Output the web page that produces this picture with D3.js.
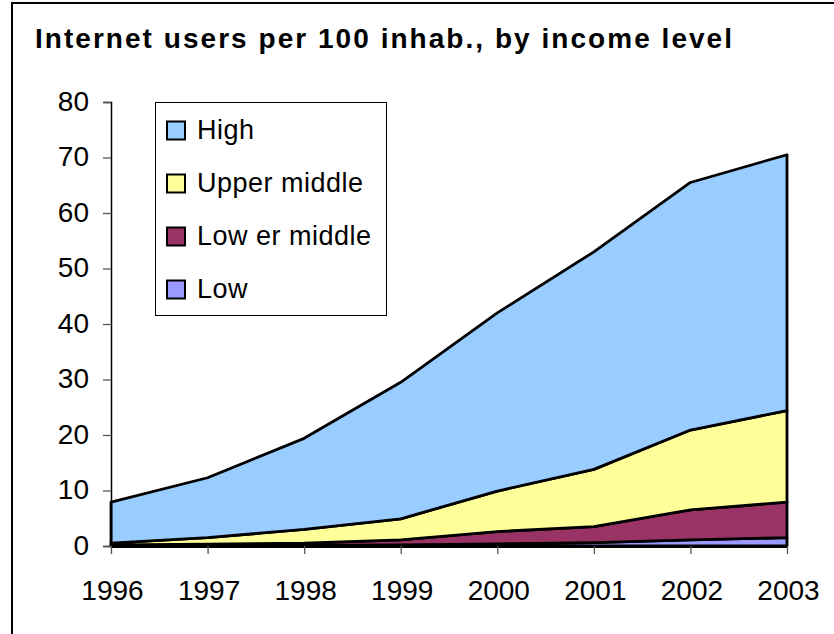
<!DOCTYPE html>
<html>
<head>
<meta charset="utf-8">
<script src="https://cdn.jsdelivr.net/npm/d3@7"></script>
<style>
  html, body { margin: 0; padding: 0; background: #fff; }
  svg { display: block; font-family: "Liberation Sans", Arial, sans-serif; }
</style>
</head>
<body>
<svg id="chart" width="834" height="634"></svg>
<script>
// ---- data ----
const years = ["1996", "1997", "1998", "1999", "2000", "2001", "2002", "2003"];
const low         = [0.05, 0.07, 0.1, 0.2, 0.4, 0.6, 1.1, 1.5];
const lowerMiddle = [0.15, 0.28, 0.4, 0.9, 2.2, 2.9, 5.4, 6.4];
const upperMiddle = [0.3, 1.15, 2.5, 3.8, 7.3, 10.3, 14.4, 16.5];
const high        = [7.4, 10.8, 16.4, 24.6, 32.1, 39.2, 44.6, 46.1];
const seriesNames = ["Low", "Low er middle", "Upper middle", "High"];
const seriesColors = ["#9999FF", "#993366", "#FFFF99", "#99CCFF"];
const yTicks = [0, 10, 20, 30, 40, 50, 60, 70, 80];
const title = "Internet users per 100 inhab., by income level";

// ---- layout ----
const svg = d3.select("#chart");
const x0 = 111, x1 = 787, yTop = 102, yBot = 546;

const rows = years.map((yr, i) => ({
  year: yr, "Low": low[i], "Low er middle": lowerMiddle[i],
  "Upper middle": upperMiddle[i], "High": high[i]
}));
const stacked = d3.stack().keys(seriesNames)(rows);

const x = d3.scalePoint().domain(years).range([x0, x1]);
const y = d3.scaleLinear().domain([0, 80]).range([yBot, yTop]);

// outer frame
svg.append("rect").attr("x", 12).attr("y", 3).attr("width", 840).attr("height", 650)
  .attr("fill", "none").attr("stroke", "#000").attr("stroke-width", 2);

// title
svg.append("text").attr("x", 35).attr("y", 48)
  .attr("font-size", 28).attr("font-weight", "bold")
  .attr("textLength", 697).attr("lengthAdjust", "spacing")
  .text(title);

// areas
const area = d3.area()
  .x((d, i) => x(years[i]))
  .y0(d => y(d[0]))
  .y1(d => y(d[1]));
svg.append("g").selectAll("path").data(stacked).join("path")
  .attr("d", area)
  .attr("fill", (d, i) => seriesColors[i])
  .attr("stroke", "#000").attr("stroke-width", 2.8)
  .attr("stroke-linejoin", "round");

// y axis
const yAxis = d3.axisLeft(y).tickValues(yTicks).tickSize(8).tickPadding(14);
const gy = svg.append("g").attr("transform", `translate(${x0},0)`).call(yAxis);
gy.select(".domain").attr("stroke", "#000").attr("stroke-width", 1.5);
gy.selectAll(".tick line").attr("stroke", "#555").attr("stroke-width", 1.3);
gy.selectAll(".tick text").attr("font-size", 28).attr("fill", "#000")
  .attr("font-family", "Liberation Sans, Arial, sans-serif")
  .attr("dy", null).attr("y", 8);

// x axis
const xAxis = d3.axisBottom(x).tickSize(8).tickPadding(26).tickSizeOuter(0);
const gx = svg.append("g").attr("transform", `translate(0,${yBot})`).call(xAxis);
gx.select(".domain").attr("stroke", "#000").attr("stroke-width", 3);
gx.selectAll(".tick line").attr("stroke", "#555").attr("stroke-width", 1.3);
gx.selectAll(".tick text").attr("font-size", 28).attr("fill", "#000")
  .attr("font-family", "Liberation Sans, Arial, sans-serif")
  .attr("dy", null).attr("y", 54).attr("dx", 1);

// legend
const legend = svg.append("g");
legend.append("rect").attr("x", 155.5).attr("y", 102.5).attr("width", 231).attr("height", 213)
  .attr("fill", "#fff").attr("stroke", "#000").attr("stroke-width", 1);
const legendOrder = [3, 2, 1, 0];
const legY = d3.scalePoint().domain(legendOrder).range([130.5, 289.5]);
const li = legend.selectAll("g.item").data(legendOrder).join("g").attr("class", "item")
  .attr("transform", d => `translate(0,${legY(d)})`);
li.append("rect").attr("x", 167).attr("y", -9).attr("width", 18).attr("height", 18)
  .attr("fill", d => seriesColors[d]).attr("stroke", "#000").attr("stroke-width", 2);
li.append("text").attr("x", 197).attr("y", 8).attr("font-size", 27)
  .attr("letter-spacing", 0.5)
  .text(d => seriesNames[d]);
</script>
</body>
</html>
